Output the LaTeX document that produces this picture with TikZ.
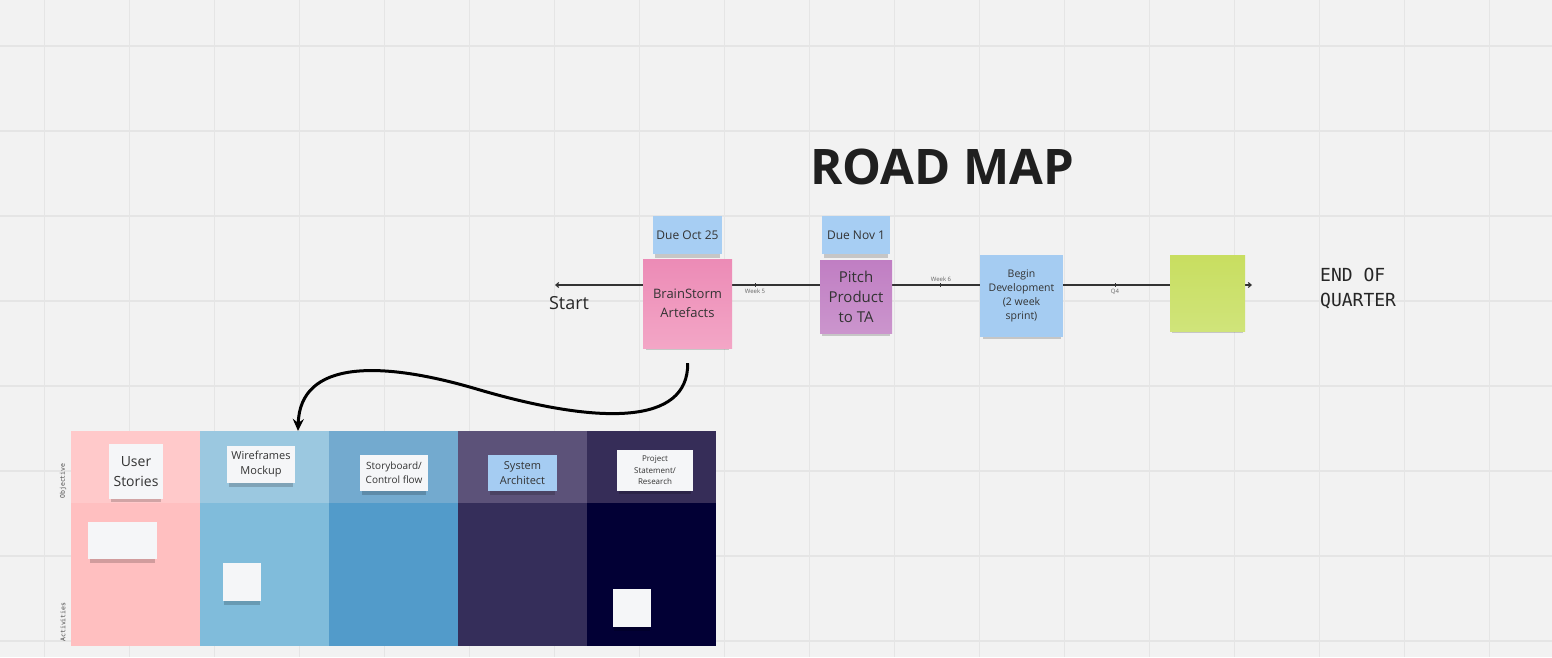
\documentclass[tikz,border=0pt]{standalone}
\usepackage{fontspec}
\setmainfont{Open Sans}
\setmonofont{DejaVu Sans Mono}
\usetikzlibrary{arrows.meta,shadows}
\definecolor{bg}{HTML}{F2F2F2}
\definecolor{gridc}{HTML}{E5E5E5}
\definecolor{duec}{HTML}{A7CEF3}
\definecolor{pinkT}{HTML}{EC8BB6}
\definecolor{pinkB}{HTML}{F3A6C6}
\definecolor{purpT}{HTML}{C07EC3}
\definecolor{purpB}{HTML}{CB95CD}
\definecolor{blueS}{HTML}{A5CCF2}
\definecolor{greenT}{HTML}{C8DE60}
\definecolor{greenB}{HTML}{D0E47A}
\definecolor{whiteS}{HTML}{F5F6F8}
\definecolor{txt}{HTML}{333333}
\definecolor{hA}{HTML}{FFC9CA}\definecolor{bA}{HTML}{FFBFC0}
\definecolor{hB}{HTML}{9BC8E0}\definecolor{bB}{HTML}{80BCDB}
\definecolor{hC}{HTML}{73AACF}\definecolor{bC}{HTML}{529BCA}
\definecolor{hD}{HTML}{5C5279}\definecolor{bD}{HTML}{352E5A}
\definecolor{hE}{HTML}{362D58}\definecolor{bE}{HTML}{020035}
\definecolor{lineC}{HTML}{333333}
\tikzset{
  sticky/.style={rectangle, inner sep=0pt, align=center, text=txt,
    drop shadow={shadow scale=0.94, shadow xshift=0pt, shadow yshift=-5pt, opacity=0.18, fill=black}},
  cell/.style={rectangle, inner sep=0pt, minimum width=129pt},
  ticklbl/.style={font=\fontsize{6}{7}\selectfont, text=black!60, inner sep=0pt},
  sidelbl/.style={font=\ttfamily\fontsize{6.5}{7}\selectfont, text=black!70, rotate=90, inner sep=0pt}
}
\begin{document}
\begin{tikzpicture}[x=1pt,y=-1pt]
\fill[bg] (0,0) rectangle (1552,657);
\useasboundingbox (0,0) rectangle (1552,657);
% grid
\foreach \gx in {44.5,129.5,...,1552} \draw[gridc, line width=1.4pt] (\gx,0) -- (\gx,657);
\foreach \gy in {46,131,...,657} \draw[gridc, line width=1.4pt] (0,\gy) -- (1552,\gy);

% title
\node[font=\fontsize{49}{56}\selectfont\bfseries, text=black!88] (title) at (942,167) {ROAD MAP};

% timeline
\coordinate (tlL) at (555,285);
\coordinate (tlR) at (1252,285);
\draw[lineC, line width=1.1pt, {Straight Barb[length=3pt,width=5pt]}-{Straight Barb[length=3pt,width=5pt]}] (tlL) -- (tlR);
\coordinate (t5) at (755,285);
\coordinate (t6) at (940,285);
\coordinate (tq) at (1115,285);
\foreach \t in {t5,t6,tq} \draw[lineC, line width=0.6pt] ([yshift=2pt]\t) -- ([yshift=-2pt]\t);
\node[ticklbl] (w5) at (755,291.5) {Week 5};
\node[ticklbl] (w6) at (941,279) {Week 6};
\node[ticklbl] (q4) at (1115,291.5) {Q4};

\node[font=\fontsize{18}{20}\selectfont, text=black!85] (start) at (569,303) {Start};
\node[anchor=west, align=left, inner sep=0pt, font=\ttfamily\fontsize{18}{25}\selectfont, text=black!85] (endq) at (1320,288)
  {END OF\\QUARTER};

% stickies on timeline
\node[sticky, fill=duec, minimum width=69pt, minimum height=38pt, font=\fontsize{12}{14}\selectfont] (due1) at (687.5,235)
  {Due Oct 25};
\node[sticky, top color=pinkT, bottom color=pinkB, minimum width=89pt, minimum height=89pt, font=\fontsize{13}{19}\selectfont] (brain) at (687.5,303.5)
  {BrainStorm\\Artefacts};
\node[sticky, fill=duec, minimum width=68pt, minimum height=38pt, font=\fontsize{12}{14}\selectfont] (due2) at (856,235)
  {Due Nov 1};
\node[sticky, top color=purpT, bottom color=purpB, minimum width=72pt, minimum height=73pt, font=\fontsize{15}{20}\selectfont] (pitch) at (856,296.5)
  {Pitch\\Product\\to TA};
\node[sticky, fill=blueS, minimum width=83pt, minimum height=82pt, font=\fontsize{10.5}{14}\selectfont] (begin) at (1021.5,296)
  {Begin\\Development\\(2 week\\sprint)};
\node[sticky, top color=greenT, bottom color=greenB, minimum width=75pt, minimum height=76pt] (green) at (1207.5,293) {};

% table
\node[cell, fill=hA, minimum height=72pt] (hA) at (135.5,467) {};
\node[cell, fill=hB, minimum height=72pt] (hB) at (264.5,467) {};
\node[cell, fill=hC, minimum height=72pt] (hC) at (393.5,467) {};
\node[cell, fill=hD, minimum height=72pt] (hD) at (522.5,467) {};
\node[cell, fill=hE, minimum height=72pt] (hE) at (651.5,467) {};
\node[cell, fill=bA, minimum height=143pt] (bA) at (135.5,574.5) {};
\node[cell, fill=bB, minimum height=143pt] (bB) at (264.5,574.5) {};
\node[cell, fill=bC, minimum height=143pt] (bC) at (393.5,574.5) {};
\node[cell, fill=bD, minimum height=143pt] (bD) at (522.5,574.5) {};
\node[cell, fill=bE, minimum height=143pt] (bE) at (651.5,574.5) {};

\node[sidelbl] (obj) at (63,481) {Objective};
\node[sidelbl] (act) at (63,622) {Activities};

\node[sticky, fill=whiteS, minimum width=54pt, minimum height=55pt, font=\fontsize{14}{20}\selectfont] (us) at (136,471.5)
  {User\\Stories};
\node[sticky, fill=whiteS, minimum width=69pt, minimum height=37pt] (wA) at (122.5,540.5) {};
\node[sticky, fill=whiteS, minimum width=68pt, minimum height=37pt, font=\fontsize{11}{15}\selectfont] (wf) at (261,464.5)
  {Wireframes\\Mockup};
\node[sticky, fill=whiteS, minimum width=38pt, minimum height=38pt] (wB) at (242,582) {};
\node[sticky, fill=whiteS, minimum width=68pt, minimum height=36pt, font=\fontsize{10}{14}\selectfont] (sb) at (394,473)
  {Storyboard/\\Control flow};
\node[sticky, fill=blueS, minimum width=69pt, minimum height=36pt, font=\fontsize{11}{15}\selectfont] (sa) at (522.5,473)
  {System\\Architect};
\node[sticky, fill=whiteS, minimum width=76pt, minimum height=41pt, font=\fontsize{8}{11.5}\selectfont] (ps) at (655,470.5)
  {Project\\Statement/\\Research};
\node[sticky, fill=whiteS, minimum width=38pt, minimum height=38pt] (wC) at (632,608) {};

% curved arrow
\coordinate (arrEnd) at (298,431);
\draw[black, line width=3pt, shorten <=15pt, -{Stealth[length=12pt,width=11pt]}]
  (brain.south) .. controls (688.5,425) and (600,425) .. (480,390)
  .. controls (380,360) and (300,360) .. (arrEnd);
\end{tikzpicture}
\end{document}
